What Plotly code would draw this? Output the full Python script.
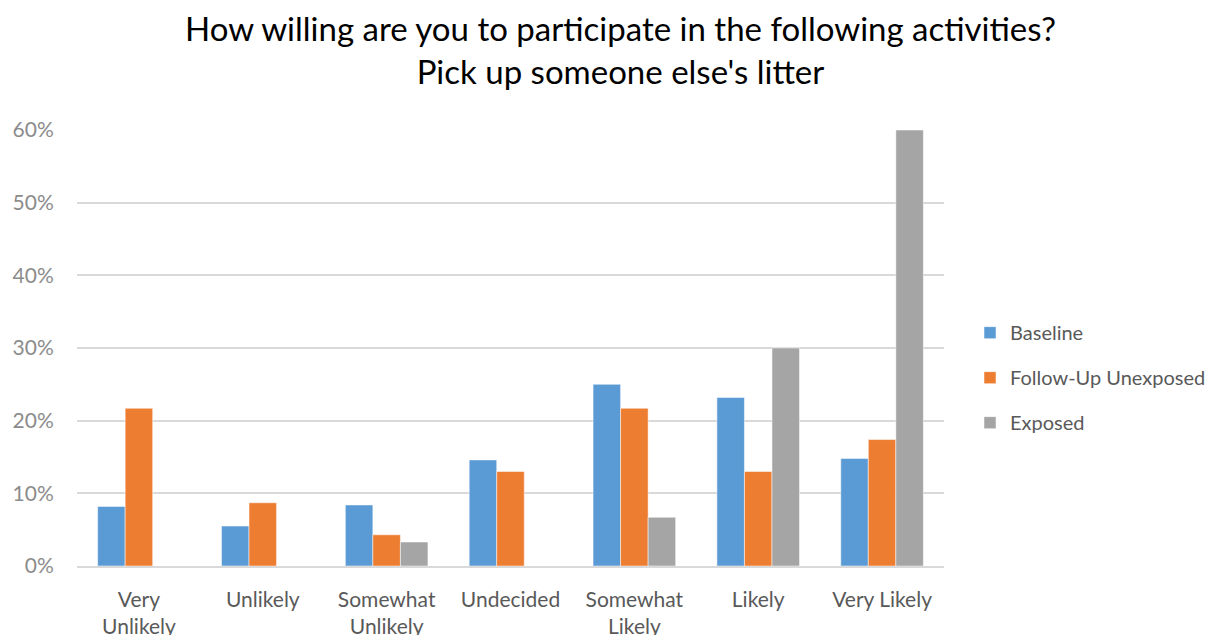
import plotly.graph_objects as go

categories = ["Very<br>Unlikely", "Unlikely", "Somewhat<br>Unlikely", "Undecided",
              "Somewhat<br>Likely", "Likely", "Very Likely"]
baseline = [0.082, 0.055, 0.084, 0.146, 0.250, 0.232, 0.148]
follow_up = [0.217, 0.087, 0.043, 0.130, 0.217, 0.130, 0.174]
exposed = [0.0, 0.0, 0.033, 0.0, 0.067, 0.300, 0.600]

series = [
    ("Baseline", baseline, "#5B9BD5"),
    ("Follow-Up Unexposed", follow_up, "#ED7D31"),
    ("Exposed", exposed, "#A5A5A5"),
]

fig = go.Figure()
for i, (name, vals, color) in enumerate(series):
    fig.add_trace(go.Bar(
        name=name, x=categories, y=vals,
        marker=dict(color=color, line=dict(color="rgba(255,255,255,0.5)", width=1)),
        legendgroup=f"g{i}",
    ))

fig.update_layout(
    width=1219, height=635,
    barmode="group", bargap=0.333, bargroupgap=0,
    plot_bgcolor="white", paper_bgcolor="white",
    margin=dict(l=77, r=275, t=130, b=69, autoexpand=False),
    title=dict(
        text="How willing are you to participate in the following activities?<br>Pick up someone else's litter",
        x=0.509, xanchor="center", y=0.935, yanchor="middle",
        font=dict(family="Lato", size=33, color="#000000"),
    ),
    font=dict(family="Lato", color="#595959"),
    legend=dict(
        x=1.03, xanchor="left", y=0.432, yanchor="middle",
        font=dict(size=20, color="#595959"),
        tracegroupgap=16, traceorder="grouped",
    ),
    showlegend=True,
)
fig.update_yaxes(
    range=[0, 0.6], dtick=0.1, tickformat=".0%",
    showgrid=True, gridcolor="#D9D9D9", gridwidth=1.5,
    zeroline=False, showline=False, automargin=False,
    tickfont=dict(size=21, color="#8C8C8C"),
    ticks="outside", ticklen=18, tickcolor="rgba(0,0,0,0)",
)
fig.update_xaxes(
    showline=True, linecolor="#D9D9D9", linewidth=1.5, automargin=False,
    tickfont=dict(size=21, color="#595959"),
    ticks="outside", ticklen=14, tickcolor="rgba(0,0,0,0)",
    tickangle=0,
)

fig.write_html("out.html")
